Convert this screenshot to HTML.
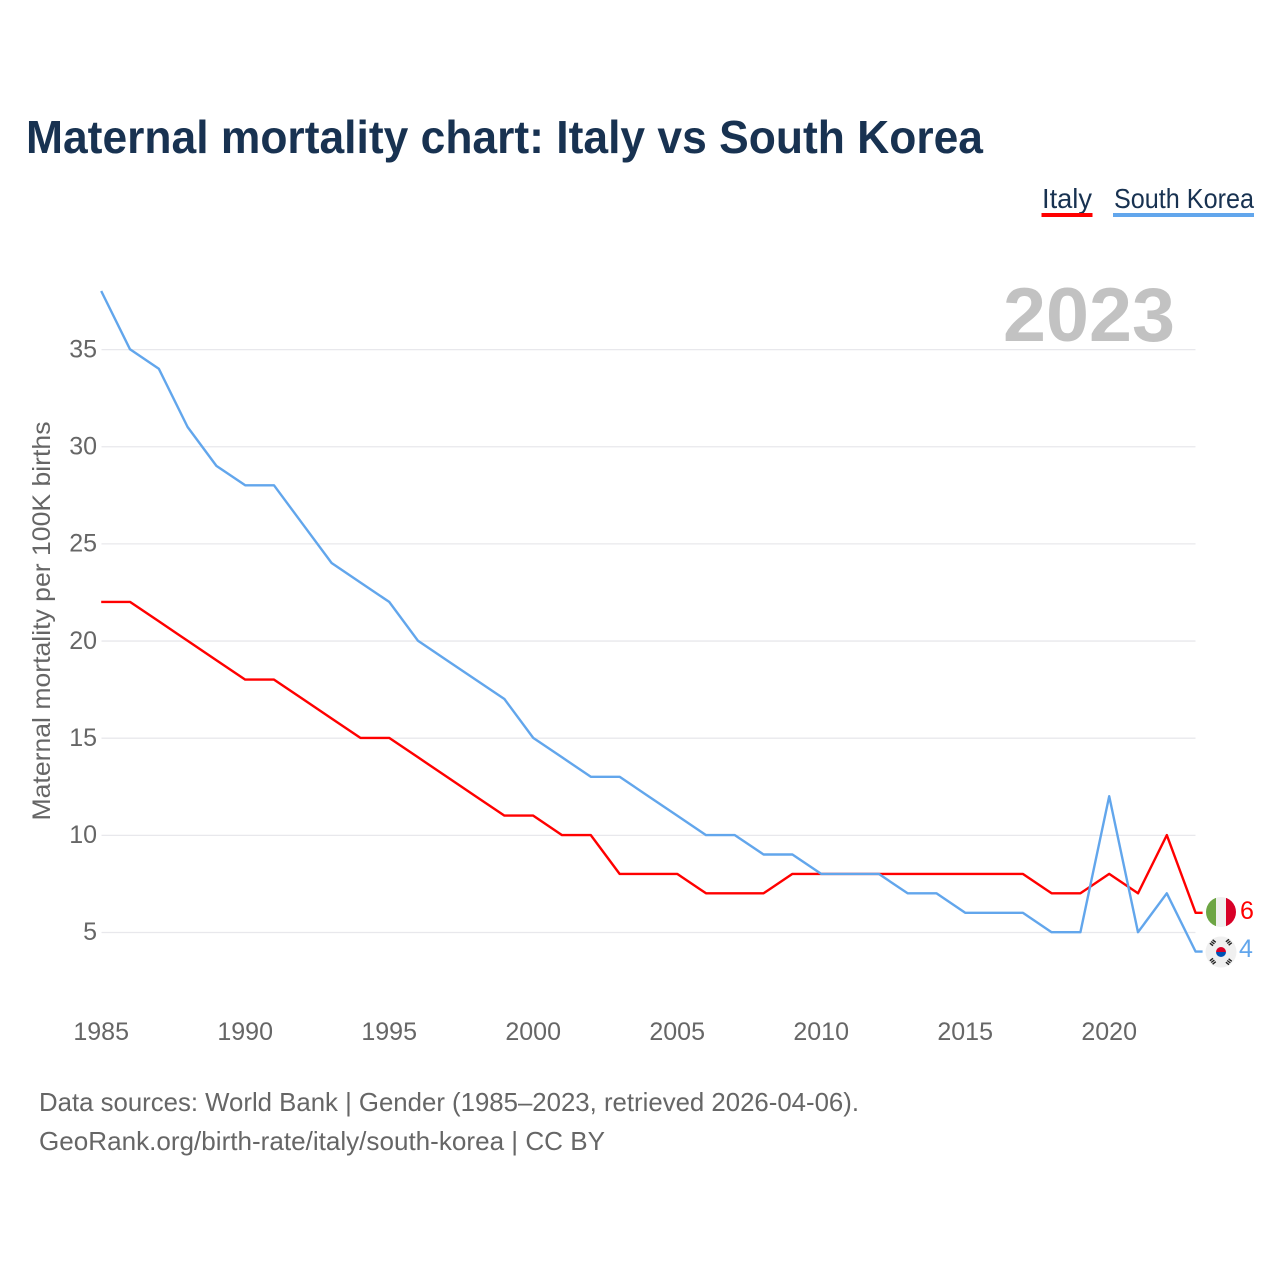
<!DOCTYPE html>
<html lang="en">
<head>
<meta charset="utf-8">
<title>Maternal mortality chart: Italy vs South Korea</title>
<style>
html,body{margin:0;padding:0;background:#fff}
svg{display:block}
text{font-family:"Liberation Sans",sans-serif}
</style>
</head>
<body>
<svg id="chart" xmlns="http://www.w3.org/2000/svg" width="1280" height="1280" viewBox="0 0 1280 1280">
  <text x="26" y="153" font-size="46" font-weight="700" fill="#183251" textLength="957" lengthAdjust="spacingAndGlyphs">Maternal mortality chart: Italy vs South Korea</text>

  <g>
    <g>
      <text x="1042" y="208" font-size="28" fill="#183251" textLength="50" lengthAdjust="spacingAndGlyphs">Italy</text>
      <rect x="1041.5" y="213" width="51" height="4" fill="#ff0000"/>
    </g>
    <g>
      <text x="1114" y="208" font-size="28" fill="#183251" textLength="140" lengthAdjust="spacingAndGlyphs">South Korea</text>
      <rect x="1113" y="213" width="141" height="4" fill="#62a6ec"/>
    </g>
  </g>

  <g id="grid"></g>
  <text x="1175" y="341" text-anchor="end" font-size="76" font-weight="700" fill="#c2c2c2" textLength="172" lengthAdjust="spacingAndGlyphs">2023</text>
  <g id="yticks"></g>
  <g id="xticks"></g>
  <text transform="translate(50 621) rotate(-90)" text-anchor="middle" font-size="25" fill="#666666" textLength="399" lengthAdjust="spacingAndGlyphs">Maternal mortality per 100K births</text>

  <path id="line-italy" fill="none" stroke="#ff0000" stroke-width="2.4" stroke-linejoin="round"/>
  <path id="line-korea" fill="none" stroke="#62a6ec" stroke-width="2.4" stroke-linejoin="round"/>

  <defs>
    <clipPath id="clip-it"><circle cx="1221" cy="912" r="15"/></clipPath>
    <clipPath id="clip-kr"><circle cx="1221" cy="952" r="15.5"/></clipPath>
  </defs>

  <g id="flag-it-group" clip-path="url(#clip-it)">
    <rect x="1206" y="897" width="10" height="30" fill="#6da544"/>
    <rect x="1216" y="897" width="10" height="30" fill="#f0f0f0"/>
    <rect x="1226" y="897" width="10" height="30" fill="#d80027"/>
  </g>
  <g id="flag-kr-group" clip-path="url(#clip-kr)">
    <rect x="1205" y="936" width="32" height="32" fill="#f0f0f0"/>
    <path d="M1216 952a5 5 0 0 1 10 0z" fill="#d80027"/>
    <path d="M1216 952a5 5 0 0 0 10 0z" fill="#0052b4"/>
    <g stroke="#222" stroke-width="4" stroke-dasharray="1.4 .8" fill="none">
      <path d="M1211 945l4-5M1227 940l4 5M1211 959l4 5M1227 964l4-5"/>
    </g>
  </g>

  <text x="1240" y="919" font-size="25" fill="#ff0000">6</text>
  <text x="1239" y="957" font-size="25" fill="#62a6ec">4</text>

  <text x="39" y="1111" font-size="26" fill="#666666" textLength="820" lengthAdjust="spacingAndGlyphs">Data sources: World Bank | Gender (1985–2023, retrieved 2026-04-06).</text>
  <text x="39" y="1150" font-size="26" fill="#666666" textLength="566" lengthAdjust="spacingAndGlyphs">GeoRank.org/birth-rate/italy/south-korea | CC BY</text>
</svg>
<script>
const years = [1985,1986,1987,1988,1989,1990,1991,1992,1993,1994,1995,1996,1997,1998,1999,2000,2001,2002,2003,2004,2005,2006,2007,2008,2009,2010,2011,2012,2013,2014,2015,2016,2017,2018,2019,2020,2021,2022,2023];
const italyValues = [22,22,21,20,19,18,18,17,16,15,15,14,13,12,11,11,10,10,8,8,8,7,7,7,8,8,8,8,8,8,8,8,8,7,7,8,7,10,6];
const koreaValues = [38,35,34,31,29,28,28,26,24,23,22,20,19,18,17,15,14,13,13,12,11,10,10,9,9,8,8,8,7,7,6,6,6,5,5,12,5,7,4];
const xTickLabels = [1985,1990,1995,2000,2005,2010,2015,2020];
const yTickLabels = [5,10,15,20,25,30,35];

const NS = 'http://www.w3.org/2000/svg';
function xScale(year){ return 101.2 + (year - 1985) * 28.8; }
function yScale(value){ return 932.2 - (value - 5) * 19.43; }

const gridGroup = document.getElementById('grid');
const yTickGroup = document.getElementById('yticks');
const xTickGroup = document.getElementById('xticks');

yTickLabels.forEach(function(v){
  const line = document.createElementNS(NS, 'line');
  line.setAttribute('x1', 101.5);
  line.setAttribute('x2', 1195.5);
  line.setAttribute('y1', yScale(v) + 0.3);
  line.setAttribute('y2', yScale(v) + 0.3);
  line.setAttribute('stroke', '#e8e8ec');
  line.setAttribute('stroke-width', '1.3');
  
  
  gridGroup.appendChild(line);

  const t = document.createElementNS(NS, 'text');
  t.setAttribute('x', 97);
  t.setAttribute('y', yScale(v) + 8);
  t.setAttribute('text-anchor', 'end');
  t.setAttribute('font-size', '25');
  t.setAttribute('fill', '#666666');
  
  
  t.textContent = v;
  yTickGroup.appendChild(t);
});

xTickLabels.forEach(function(y){
  const t = document.createElementNS(NS, 'text');
  t.setAttribute('x', xScale(y));
  t.setAttribute('y', 1040);
  t.setAttribute('text-anchor', 'middle');
  t.setAttribute('font-size', '25');
  t.setAttribute('fill', '#666666');
  
  
  t.textContent = y;
  xTickGroup.appendChild(t);
});

function linePath(values){
  let d = values.map(function(v, i){
    return (i ? 'L' : 'M') + xScale(years[i]).toFixed(1) + ' ' + yScale(v).toFixed(1);
  }).join('');
  d += 'h7';
  return d;
}
document.getElementById('line-italy').setAttribute('d', linePath(italyValues));
document.getElementById('line-korea').setAttribute('d', linePath(koreaValues));
</script>
</body>
</html>
